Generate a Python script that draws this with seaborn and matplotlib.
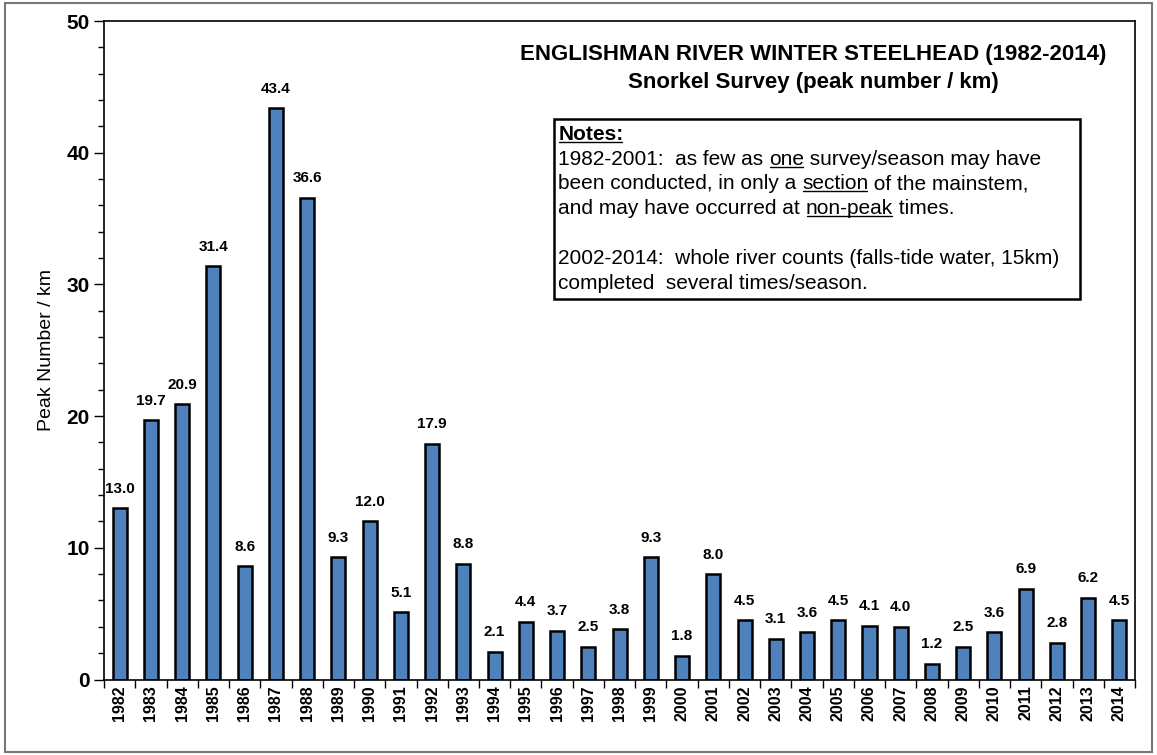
import matplotlib
matplotlib.use("Agg")
import matplotlib.pyplot as plt
from matplotlib.ticker import MultipleLocator
from matplotlib.patches import Rectangle
import seaborn as sns
import pandas as pd
import numpy as np

years = [str(y) for y in range(1982, 2015)]
peak_per_km = [13.0, 19.7, 20.9, 31.4, 8.6, 43.4, 36.6, 9.3, 12.0, 5.1,
               17.9, 8.8, 2.1, 4.4, 3.7, 2.5, 3.8, 9.3, 1.8, 8.0,
               4.5, 3.1, 3.6, 4.5, 4.1, 4.0, 1.2, 2.5, 3.6, 6.9,
               2.8, 6.2, 4.5]

title_lines = ["ENGLISHMAN RIVER WINTER STEELHEAD (1982-2014)",
               "Snorkel Survey (peak number / km)"]

# each note line is a list of (text, underlined)
note_lines = [
    [("Notes:", True)],
    [("1982-2001:  as few as ", False), ("one", True), (" survey/season may have", False)],
    [("been conducted, in only a ", False), ("section", True), (" of the mainstem,", False)],
    [("and may have occurred at ", False), ("non-peak", True), (" times.", False)],
    [("", False)],
    [("2002-2014:  whole river counts (falls-tide water, 15km)", False)],
    [("completed  several times/season.", False)],
]

sns.set_style("white")
plt.rcParams["font.family"] = ["Liberation Sans", "DejaVu Sans"]
plt.rcParams["text.color"] = "black"
plt.rcParams["axes.labelcolor"] = "black"
plt.rcParams["xtick.color"] = "black"
plt.rcParams["ytick.color"] = "black"

df = pd.DataFrame({"year": years, "value": peak_per_km})

fig = plt.figure(figsize=(11.57, 7.55), dpi=100)
ax = fig.add_axes([0.09, 0.1, 0.891, 0.872])

sns.barplot(data=df, x="year", y="value", color="#4F81BD", saturation=1,
            edgecolor="black", linewidth=1.8, width=0.45, ax=ax)

for i, v in enumerate(peak_per_km):
    ax.text(i, v + 0.95, f"{v:.1f}", ha="center", va="bottom",
            fontsize=11, fontweight="bold")

ax.set_ylim(0, 50)
ax.set_xlim(-0.5, len(years) - 0.5)
ax.yaxis.set_major_locator(MultipleLocator(10))
ax.yaxis.set_minor_locator(MultipleLocator(2))
ax.set_xticks(np.arange(-0.5, len(years), 1), minor=True)
ax.tick_params(axis="x", which="major", length=0, pad=4)
ax.tick_params(axis="x", which="minor", length=6, width=1, color="black", direction="out")
ax.tick_params(axis="y", which="major", length=7, width=1, color="black",
               direction="out", labelsize=15)
ax.tick_params(axis="y", which="minor", length=4, width=1, color="black", direction="out")
ax.tick_params(left=True, bottom=True, which="both")
for lab in ax.get_yticklabels():
    lab.set_fontweight("bold")
ax.set_xticks(range(len(years)))
ax.set_xticklabels(years, rotation=90, fontsize=11.5, fontweight="bold")
ax.set_xlabel("")
ax.set_ylabel("Peak Number / km", fontsize=14, labelpad=8)

for s in ax.spines.values():
    s.set_color("black")
    s.set_linewidth(1.2)

ax.text(0.688, 0.95, title_lines[0], transform=ax.transAxes, ha="center",
        va="center", fontsize=16, fontweight="bold")
ax.text(0.688, 0.907, title_lines[1], transform=ax.transAxes, ha="center",
        va="center", fontsize=16, fontweight="bold")

# notes box, built segment by segment so selected words can be underlined
fig.canvas.draw()
renderer = fig.canvas.get_renderer()
x0, y0 = 0.4405, 0.82
line_step = 0.0378
underlined = []
for li, line in enumerate(note_lines):
    prev = None
    for seg, ul in line:
        if prev is None:
            t = ax.text(x0, y0 - li * line_step, seg, transform=ax.transAxes,
                        ha="left", va="baseline", fontsize=15,
                        fontweight="bold" if li == 0 else "normal")
        else:
            t = ax.annotate(seg, xy=(1, 0), xycoords=prev, ha="left",
                            va="bottom", fontsize=15)
        if ul:
            underlined.append(t)
        prev = t

fig.canvas.draw()
inv = ax.transAxes.inverted()
for t in underlined:
    bb = t.get_window_extent(renderer)
    (ax0, ay0), (ax1, ay1) = inv.transform([(bb.x0 + 1, bb.y0 + 2), (bb.x1 - 1, bb.y0 + 2)])
    ax.plot([ax0, ax1], [ay0, ay1], transform=ax.transAxes, color="black", lw=1)

ax.add_patch(Rectangle((0.436, 0.578), 0.511, 0.274, transform=ax.transAxes,
                       fill=False, edgecolor="black", lw=1.8))

fig.patches.append(Rectangle((0.004, 0.004), 0.992, 0.992, transform=fig.transFigure,
                             fill=False, edgecolor="#777777", lw=1.5))

fig.savefig("out.png", dpi=100)
